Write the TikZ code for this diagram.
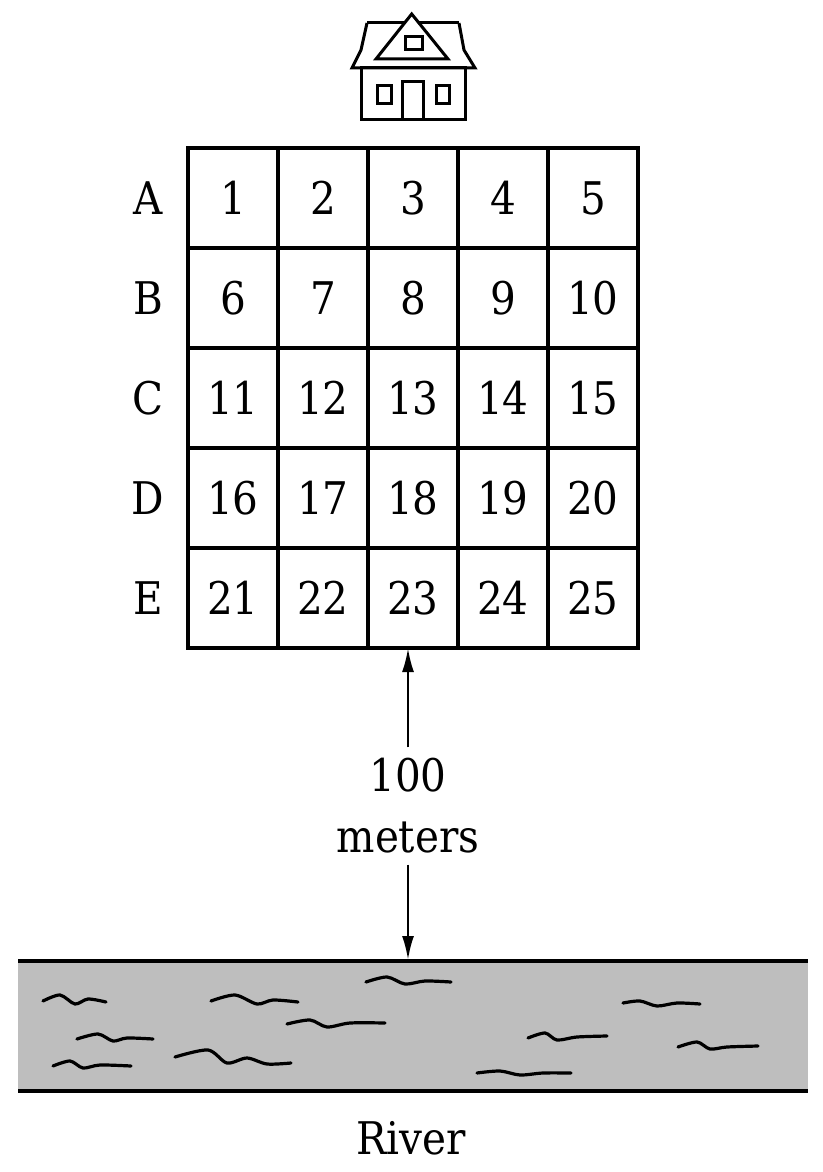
\documentclass[tikz,border=0pt]{standalone}
\usepackage{fontspec}
\setmainfont{DejaVu Serif}[FakeStretch=0.9]
\usetikzlibrary{arrows.meta}
\definecolor{rivergray}{HTML}{BEBEBE}
\tikzset{
  cellbox/.style={draw, line width=3.2pt, minimum width=90pt, minimum height=100pt, inner sep=0pt, outer sep=0pt},
  lbl/.style={inner sep=0pt, font=\fontsize{45}{61}\selectfont},
  houseline/.style={line width=3pt, line join=miter},
  wave/.style={line width=3.2pt, line cap=round},
  dimarrow/.style={line width=2.5pt, -{Latex[length=24pt, width=12pt]}},
  riverline/.style={line width=3.4pt}
}
\begin{document}
\begin{tikzpicture}[x=1pt, y=-1pt]
\useasboundingbox (0,0) rectangle (822,1172);
% house
\draw[houseline] (367,23) -- (361,50) -- (352,68) -- (475,68) -- (464,50) -- (459,23);
\draw[houseline] (367,23) -- (404,23);
\draw[houseline] (419,23) -- (459,23);
\draw[houseline] (411.7,14) -- (376,59) -- (448,59) -- cycle;
\draw[houseline] (405,37) rectangle (422,50);
\draw[houseline] (361,68) rectangle (465,119);
\draw[houseline] (402,81) rectangle (423,119);
\draw[houseline] (377,85) rectangle (391,103);
\draw[houseline] (436,85) rectangle (449,103);
% grid
\foreach \r [count=\i from 0] in {A,B,C,D,E} {
  \node[lbl] (row\r) at (148,198+100*\i) {\r};
  \foreach \c in {0,...,4} {
    \pgfmathtruncatemacro{\n}{5*\i+\c+1}
    \node[cellbox, lbl] (cell\n) at (233+90*\c,198+100*\i) {\n};
  }
}
\coordinate (gridb) at (408,648);
% river
\fill[rivergray] (18,961) rectangle (808,1091);
\draw[riverline] (18,961) -- (808,961);
\draw[riverline] (18,1091) -- (808,1091);
\coordinate (rivt) at (408,960);
\node[lbl] (river) at (411,1138) {River};
% distance
\node[lbl, align=center, inner ysep=11pt] (dist) at (408,806) {100\\meters};
\draw[dimarrow] (dist.north) -- (gridb);
\draw[dimarrow] (dist.south) -- (rivt);
% waves
\draw[wave] plot[smooth] coordinates {(43,1001) (60,995) (75,1004) (88,999) (106,1002)};
\draw[wave] plot[smooth] coordinates {(211,1001) (235,995) (257,1004) (273,1000) (298,1002)};
\draw[wave] plot[smooth] coordinates {(366,982) (387,977) (405,984) (425,981) (451,982)};
\draw[wave] plot[smooth] coordinates {(287,1024) (310,1020) (327,1027) (350,1023) (385,1023)};
\draw[wave] plot[smooth] coordinates {(77,1039) (98,1034) (113,1041) (127,1038) (153,1039)};
\draw[wave] plot[smooth] coordinates {(175,1057) (208,1050) (227,1063) (247,1058) (267,1064) (291,1063)};
\draw[wave] plot[smooth] coordinates {(53,1066) (70,1061) (83,1068) (100,1065) (131,1066)};
\draw[wave] plot[smooth] coordinates {(623,1003) (640,1001) (657,1006) (677,1003) (700,1004)};
\draw[wave] plot[smooth] coordinates {(528,1038) (545,1033) (557,1040) (577,1037) (607,1036)};
\draw[wave] plot[smooth] coordinates {(678,1047) (697,1042) (710,1049) (727,1047) (758,1046)};
\draw[wave] plot[smooth] coordinates {(477,1073) (500,1071) (520,1075) (543,1073) (571,1073)};
\end{tikzpicture}
\end{document}
